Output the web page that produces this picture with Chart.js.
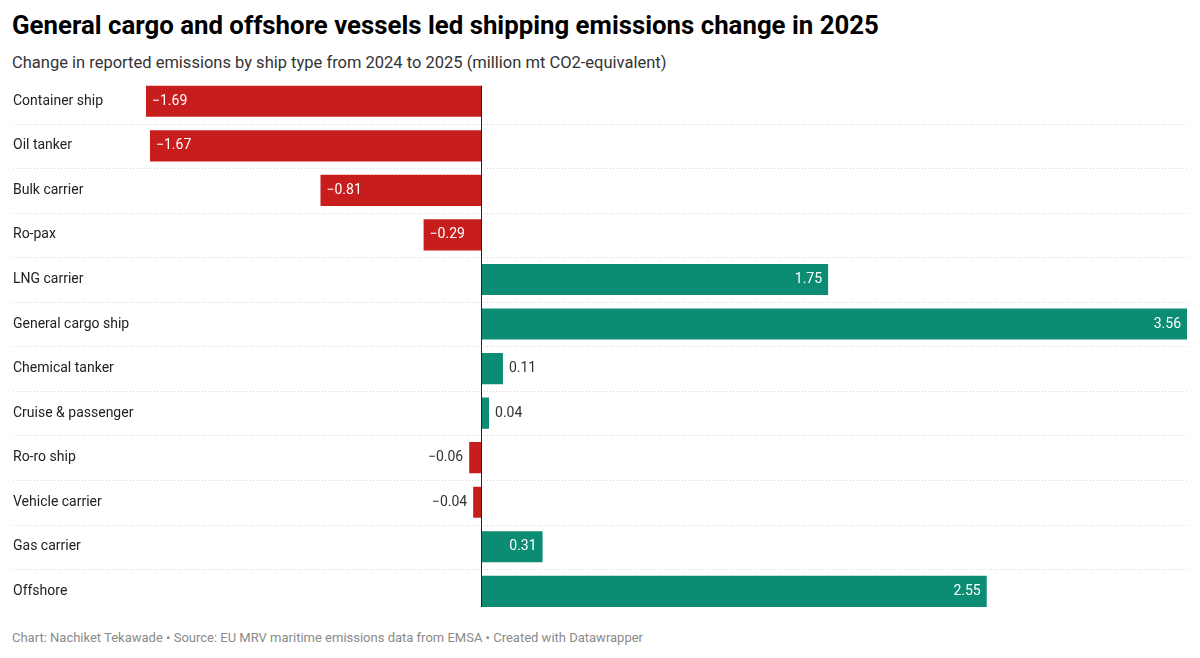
<!DOCTYPE html>
<html>
<head>
<meta charset="utf-8">
<script src="https://cdn.jsdelivr.net/npm/chart.js@4"></script>
<style>
  body { margin: 0; background: #fff; font-family: Roboto, "Noto Sans", sans-serif; }
  #title { position: absolute; left: 12px; top: 10px; font-size: 25.8px; font-weight: 700; color: #000; white-space: nowrap; }
  #subtitle { position: absolute; left: 12px; top: 53px; font-size: 16.5px; color: #333; white-space: nowrap; }
  #wrap { position: absolute; left: 0; top: 70px; width: 1200px; height: 552px; }
  #footer { position: absolute; left: 12px; top: 630px; font-size: 13px; color: #8a8a8a; white-space: nowrap; }
</style>
</head>
<body>
<div id="title">General cargo and offshore vessels led shipping emissions change in 2025</div>
<div id="subtitle">Change in reported emissions by ship type from 2024 to 2025 (million mt CO2-equivalent)</div>
<div id="wrap"><canvas id="chart"></canvas></div>
<div id="footer">Chart: Nachiket Tekawade • Source: EU MRV maritime emissions data from EMSA • Created with Datawrapper</div>

<script>
// Ship types and change in emissions (million mt CO2e)
const shipTypes = ['Container ship', 'Oil tanker', 'Bulk carrier', 'Ro-pax', 'LNG carrier', 'General cargo ship',
  'Chemical tanker', 'Cruise & passenger', 'Ro-ro ship', 'Vehicle carrier', 'Gas carrier', 'Offshore'];
const changes = [-1.69, -1.67, -0.81, -0.29, 1.75, 3.56, 0.11, 0.04, -0.06, -0.04, 0.31, 2.55];

const RED = '#c71e1d';
const GREEN = '#0b8c73';

function fmt(v) {
  const s = Math.abs(v).toFixed(2);
  return v < 0 ? '\u2212' + s : s;
}

// Dotted row separators across full width, plus zero line and value labels
const rowLines = {
  id: 'rowLines',
  beforeDatasetsDraw(chart) {
    const { ctx, scales: { y } } = chart;
    ctx.save();
    ctx.strokeStyle = '#d4d4d4';
    ctx.lineWidth = 1;
    ctx.setLineDash([1, 2]);
    for (let i = 0; i < shipTypes.length - 1; i++) {
      const yy = Math.round((y.getPixelForValue(i) + y.getPixelForValue(i + 1)) / 2) + 0.5;
      ctx.beginPath();
      ctx.moveTo(13, yy);
      ctx.lineTo(chart.chartArea.right, yy);
      ctx.stroke();
    }
    ctx.restore();
  },
  afterDatasetsDraw(chart) {
    const { ctx, scales: { x } } = chart;
    const meta = chart.getDatasetMeta(0);
    const first = meta.data[0], last = meta.data[meta.data.length - 1];
    const x0 = Math.round(x.getPixelForValue(0)) + 0.5;
    ctx.save();
    ctx.strokeStyle = '#222';
    ctx.lineWidth = 1;
    ctx.beginPath();
    ctx.moveTo(x0, first.y - first.height / 2);
    ctx.lineTo(x0, last.y + last.height / 2);
    ctx.stroke();

    // value labels
    ctx.font = '14px Roboto, sans-serif';
    ctx.textBaseline = 'middle';
    meta.data.forEach((bar, i) => {
      const v = changes[i];
      const text = fmt(v);
      const tw = ctx.measureText(text).width;
      const w = Math.abs(bar.x - bar.base);
      const inside = w > tw + 14;
      if (v >= 0) {
        if (inside) { ctx.fillStyle = '#fff'; ctx.textAlign = 'right'; ctx.fillText(text, bar.x - 6, bar.y); }
        else { ctx.fillStyle = '#333'; ctx.textAlign = 'left'; ctx.fillText(text, bar.x + 6, bar.y); }
      } else {
        if (inside) { ctx.fillStyle = '#fff'; ctx.textAlign = 'left'; ctx.fillText(text, bar.x + 6, bar.y); }
        else { ctx.fillStyle = '#333'; ctx.textAlign = 'right'; ctx.fillText(text, bar.x - 6, bar.y); }
      }
    });
    ctx.restore();
  }
};

new Chart(document.getElementById('chart'), {
  type: 'bar',
  data: {
    labels: shipTypes,
    datasets: [{
      data: changes,
      backgroundColor: changes.map(v => v < 0 ? RED : GREEN),
      barPercentage: 0.7,
      categoryPercentage: 1
    }]
  },
  options: {
    indexAxis: 'y',
    responsive: true,
    maintainAspectRatio: false,
    animation: false,
    layout: { padding: { left: 13, right: 13, top: 9, bottom: 8 } },
    plugins: { legend: { display: false }, tooltip: { enabled: false } },
    scales: {
      x: {
        display: false,
        min: Math.min(...changes),
        max: Math.max(...changes)
      },
      y: {
        grid: { display: false },
        border: { display: false },
        afterFit(scale) { scale.width = 133; },
        ticks: {
          crossAlign: 'far',
          padding: 0,
          color: '#222',
          font: { family: 'Roboto', size: 14 }
        }
      }
    }
  },
  plugins: [rowLines]
});
</script>
</body>
</html>
